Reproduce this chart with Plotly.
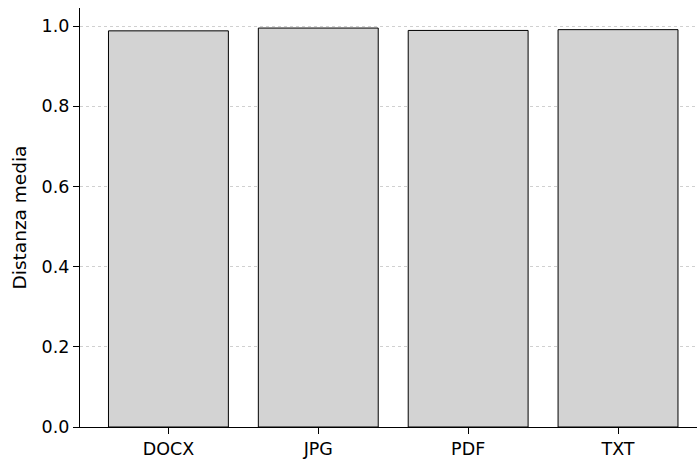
import plotly.graph_objects as go

categories = ["DOCX", "JPG", "PDF", "TXT"]
mean_distance = [0.988, 0.995, 0.989, 0.991]
y_ticks = [0.0, 0.2, 0.4, 0.6, 0.8, 1.0]
y_tick_labels = ["0.0", "0.2", "0.4", "0.6", "0.8", "1.0"]

fig = go.Figure(
    go.Bar(
        x=categories,
        y=mean_distance,
        width=0.8,
        marker=dict(color="#d3d3d3", line=dict(color="black", width=1)),
        hoverinfo="skip",
    )
)

font = dict(family="DejaVu Sans", size=17.5, color="black")

fig.update_layout(
    width=697,
    height=462,
    margin=dict(l=80, r=0, t=8, b=35),
    paper_bgcolor="white",
    plot_bgcolor="white",
    font=font,
    showlegend=False,
    xaxis=dict(
        type="category",
        range=[-0.59, 3.527],
        showline=True,
        linecolor="black",
        linewidth=1.2,
        ticks="outside",
        ticklen=6,
        tickwidth=1,
        tickcolor="black",
        showgrid=False,
        zeroline=False,
        tickfont=font,
    ),
    yaxis=dict(
        range=[0, 1.045],
        tickvals=y_ticks,
        ticktext=y_tick_labels,
        showline=True,
        linecolor="black",
        linewidth=1.2,
        ticks="outside",
        ticklen=6,
        tickwidth=1,
        tickcolor="black",
        showgrid=True,
        gridcolor="#d0d0d0",
        gridwidth=0.8,
        griddash="dot",
        zeroline=False,
        tickfont=font,
        title=dict(text="Distanza media", font=dict(family="DejaVu Sans", size=18.5), standoff=10),
        automargin=False,
    ),
    bargap=0.2,
)

fig.write_html(
    "out.html",
    config={"displayModeBar": False},
    post_script="document.body.style.margin='0';document.body.style.overflow='hidden';",
)
